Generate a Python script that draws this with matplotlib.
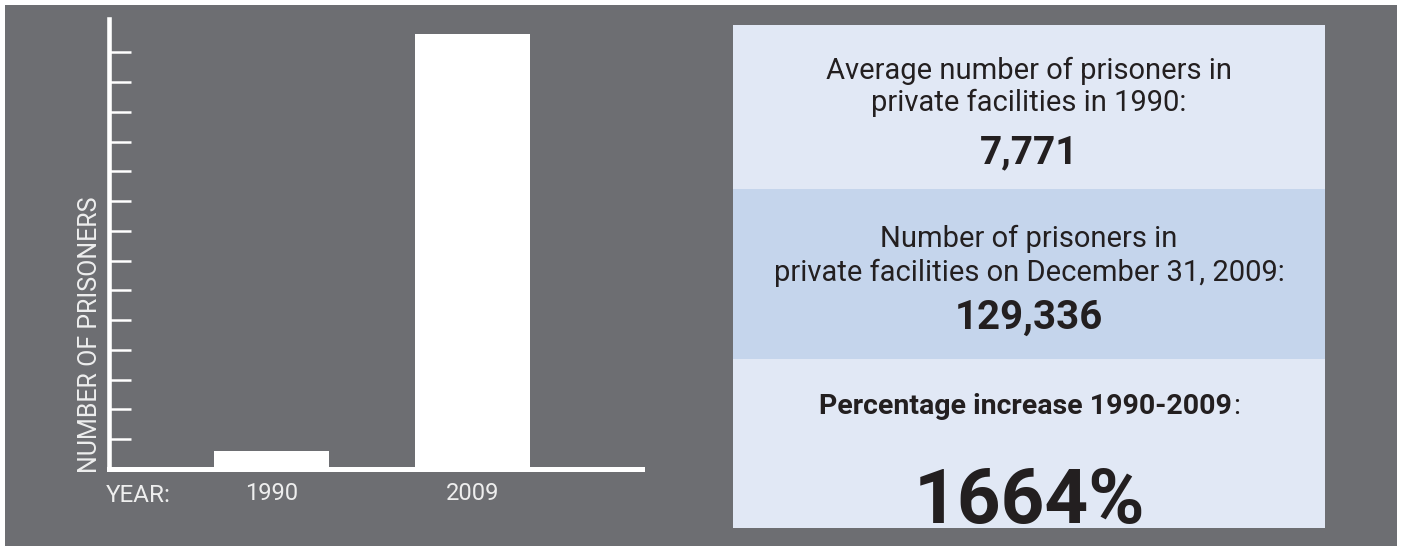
import numpy as np
import matplotlib.pyplot as plt
from matplotlib.patches import Rectangle

plt.rcParams['font.family'] = ['Roboto', 'DejaVu Sans']

# bar chart data (heights as drawn in the graphic)
years = ['1990', '2009']
bar_heights = [5300, 129336]
tick_step = 8850
n_ticks = 14

# facts shown in the panel
avg_1990 = '7,771'
total_2009 = '129,336'
pct_increase = '1664%'

gray = '#6d6e72'
light = '#e1e8f5'
mid = '#c5d5ec'
dark = '#231f20'
pale = '#eeeeee'
W, H = 1401, 546

fig = plt.figure(figsize=(W / 100, H / 100), dpi=100)
fig.patch.set_facecolor('white')

# background + panel drawn in pixel coordinates
bg = fig.add_axes([0, 0, 1, 1])
bg.set_xlim(0, W)
bg.set_ylim(H, 0)
bg.axis('off')
bg.add_patch(Rectangle((5, 5), 1392, 541, color=gray, lw=0))
bg.add_patch(Rectangle((733, 25), 592, 164, color=light, lw=0))
bg.add_patch(Rectangle((733, 189), 592, 170, color=mid, lw=0))
bg.add_patch(Rectangle((733, 359), 592, 169, color=light, lw=0))

cx = 1029
bg.text(cx, 79, 'Average number of prisoners in', ha='center', va='baseline', fontsize=21, color=dark)
bg.text(cx, 111, 'private facilities in 1990:', ha='center', va='baseline', fontsize=21, color=dark)
bg.text(cx, 163, avg_1990, ha='center', va='baseline', fontsize=28, fontweight='bold', color=dark)
bg.text(cx, 247, 'Number of prisoners in', ha='center', va='baseline', fontsize=21, color=dark)
bg.text(cx, 281, 'private facilities on December 31, 2009:', ha='center', va='baseline', fontsize=21, color=dark)
bg.text(cx, 329, total_2009, ha='center', va='baseline', fontsize=29, fontweight='bold', color=dark)

# bold heading with a regular-weight colon after it, centred as one line
head = bg.text(cx, 414, 'Percentage increase 1990-2009', ha='left', va='baseline', fontsize=20.5,
               fontweight='bold', color=dark)
colon = bg.text(cx, 414, ':', ha='left', va='baseline', fontsize=20.5, color=dark)
fig.canvas.draw()
r = fig.canvas.get_renderer()
w1 = head.get_window_extent(r).width
w2 = colon.get_window_extent(r).width
x0 = cx - (w1 + w2) / 2
head.set_x(x0)
colon.set_x(x0 + w1 + 1)

bg.text(cx, 523, pct_increase, ha='center', va='baseline', fontsize=55, fontweight='bold', color=dark)

bg.text(106, 502, 'YEAR:', ha='left', va='baseline', fontsize=17.5, color=pale)
bg.text(90, 473, 'NUMBER OF PRISONERS', rotation=90, ha='center', va='bottom', fontsize=18,
        color=pale)

# bar chart axes
left, right, top, bottom = 109, 642, 19, 469
ax = fig.add_axes([left / W, 1 - bottom / H, (right - left) / W, (bottom - top) / H])
ax.patch.set_alpha(0)
x = np.arange(len(years))
ax.bar(x, bar_heights, width=0.572, color='white', zorder=1)
ax.set_xlim(-0.808, 1.843)
ax.set_ylim(0, 133800)
for s in ['top', 'right']:
    ax.spines[s].set_visible(False)
ax.spines['left'].set_color('white')
ax.spines['left'].set_linewidth(3.3)
ax.spines['bottom'].set_color('white')
ax.spines['bottom'].set_linewidth(3.6)
ax.set_yticks(np.arange(1, n_ticks + 1) * tick_step)
ax.set_yticklabels([])
ax.tick_params(axis='y', direction='in', length=15.6, width=1.8, color='white')
ax.set_xticks(x, years)
ax.tick_params(axis='x', length=0, pad=9, labelsize=17, labelcolor=pale)

plt.savefig('out.png', dpi=100)
